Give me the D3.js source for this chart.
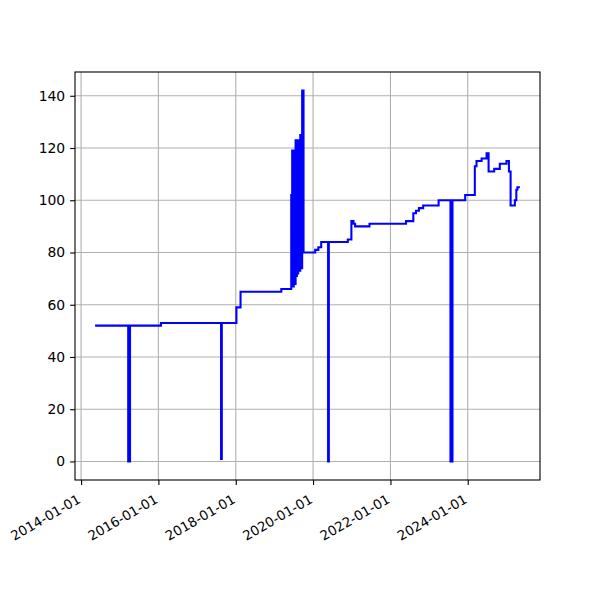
<!DOCTYPE html>
<html><head><meta charset="utf-8">
<script src="https://cdn.jsdelivr.net/npm/d3@7"></script>
<style>body{margin:0;background:#fff}</style>
</head><body><svg id="c" width="600" height="600"></svg>
<script>
const dates = ["2014-05-23","2015-03-22","2015-04-08","2016-01-25","2017-08-15","2017-08-22","2018-01-07","2018-02-15","2019-03-07","2019-06-09","2019-06-18","2019-06-28","2019-07-03","2019-07-10","2019-07-20","2019-07-26","2019-08-01","2019-08-08","2019-08-14","2019-08-20","2019-09-02","2019-09-08","2019-09-20","2019-10-03","2020-01-21","2020-02-20","2020-03-18","2020-05-22","2020-05-29","2020-11-24","2020-12-28","2021-01-17","2021-02-01","2021-06-17","2022-05-28","2022-08-05","2022-08-30","2022-09-27","2022-11-06","2023-04-01","2023-07-22","2023-08-10","2023-12-08","2024-03-08","2024-03-24","2024-05-11","2024-06-27","2024-07-16","2024-09-07","2024-10-30","2025-01-01","2025-01-24","2025-02-09","2025-03-21","2025-04-04","2025-04-14","2025-04-28"];
const values = [52,0,52,53,1,53,59,65,66,102,119,67,119,68,123,71,123,72,123,73,125,74,142,80,81,82,84,0,84,85,92,91,90,91,92,95,96,97,98,100,0,100,102,113,115,116,118,111,112,114,115,111,98,100,104,105,105];
const xTickLabels = ["2014-01-01","2016-01-01","2018-01-01","2020-01-01","2022-01-01","2024-01-01"];
const yTickValues = [0,20,40,60,80,100,120,140];

const parse = d3.utcParse("%Y-%m-%d");
const data = dates.map((d,i)=>({t:parse(d), v:values[i]}));

const L=75, R=540, T=72, B=480;
const svg = d3.select("#c");
const fs = "13.9px", font = "DejaVu Sans, sans-serif";

const tExt = d3.extent(data, d=>d.t);
const span = tExt[1]-tExt[0];
const x = d3.scaleUtc().domain([new Date(+tExt[0]-0.05*span), new Date(+tExt[1]+0.05*span)]).range([L,R]);
const vMin = d3.min(values), vMax = d3.max(values), vs = vMax-vMin;
const y = d3.scaleLinear().domain([vMin-0.05*vs, vMax+0.05*vs]).range([B,T]);

const xTicks = xTickLabels.map(parse);

// grid
const g = svg.append("g");
g.selectAll(".gx").data(xTicks).join("line")
  .attr("x1",d=>x(d)).attr("x2",d=>x(d)).attr("y1",T).attr("y2",B)
  .attr("stroke","#b0b0b0").attr("stroke-width",1.1);
g.selectAll(".gy").data(yTickValues).join("line")
  .attr("y1",d=>y(d)).attr("y2",d=>y(d)).attr("x1",L).attr("x2",R)
  .attr("stroke","#b0b0b0").attr("stroke-width",1.1);

// line
const line = d3.line().x(d=>x(d.t)).y(d=>y(d.v)).curve(d3.curveStepAfter);
svg.append("path").datum(data).attr("d",line)
  .attr("fill","none").attr("stroke","#0000ff").attr("stroke-width",2.08)
  .attr("stroke-linejoin","miter").attr("stroke-linecap","square");

// frame
svg.append("rect").attr("x",L).attr("y",T).attr("width",R-L).attr("height",B-T)
  .attr("fill","none").attr("stroke","#000").attr("stroke-width",1.1);

// x axis
const xa = svg.append("g").attr("transform",`translate(0,${B})`)
  .call(d3.axisBottom(x).tickValues(xTicks).tickSize(4.9).tickPadding(4.9).tickFormat(d3.utcFormat("%Y-%m-%d")));
xa.select(".domain").remove();
xa.selectAll(".tick line").attr("stroke","#000").attr("stroke-width",1.1);
xa.selectAll(".tick text")
  .attr("font-family",font).attr("font-size","13.4px").attr("fill","#000")
  .attr("text-anchor","end").attr("dy",null).attr("y",null)
  .attr("transform","translate(0,22) rotate(-30)");

// y axis
const ya = svg.append("g").attr("transform",`translate(${L},0)`)
  .call(d3.axisLeft(y).tickValues(yTickValues).tickSize(4.9).tickPadding(4.9));
ya.select(".domain").remove();
ya.selectAll(".tick line").attr("stroke","#000").attr("stroke-width",1.1);
ya.selectAll(".tick text").attr("font-family",font).attr("font-size",fs).attr("fill","#000");
</script>
</body></html>
